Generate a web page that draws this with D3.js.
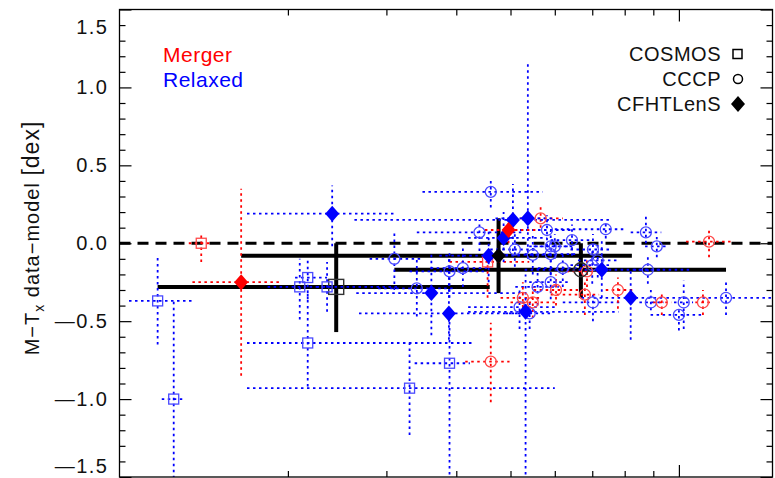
<!DOCTYPE html>
<html><head><meta charset="utf-8">
<script src="https://cdn.jsdelivr.net/npm/d3@7"></script>
<style>
body{margin:0;background:#fff}
svg{display:block}
text{font-family:"Liberation Sans",Arial,sans-serif}
</style>
</head><body>
<svg id="c" width="775" height="478"></svg>
<script>
// ---------------- data ----------------
// y axis ticks (dex)
const yMajorTicks = [-1.5, -1.0, -0.5, 0.0, 0.5, 1.0, 1.5];
const xMinorTicks = [2, 3, 4, 5, 6, 7, 8, 9];
const xMajorTicks = [10];
// rows: [T, T_low, T_high, resid, resid_low, resid_high, state]  (state: M = merger, R = relaxed)
const cosmos = [
  [1.17, 1.04, 1.35, -0.37, -0.65, -0.09, 'R'],
  [1.25, 1.19, 1.30, -1.00, -1.70, -0.37, 'R'],
  [1.40, 1.33, 1.46,  0.00, -0.12,  0.066, 'M'],
  [2.10, 1.84, 2.37, -0.28, -0.49, -0.10, 'R'],
  [2.17, 2.06, 2.35, -0.22, -0.36, -0.09, 'R'],
  [2.35, 2.25, 3.17, -0.28, -0.44, -0.12, 'R'],
  [2.17, 1.69, 4.26, -0.64, -0.92, -0.30, 'R'],
  [3.30, 1.69, 6.00, -0.93, -1.23, -0.62, 'R'],
  [3.89, 3.37, 4.23, -0.77, -1.60, -0.50, 'R'],
  [4.55, 3.89, 5.40, -0.12, -0.35, -0.06, 'M']
];
const cccp = [
  [4.61, 3.48, 5.71,  0.33,  0.23,  0.40, 'R'],
  [4.40, 3.40, 5.30,  0.07, -0.05,  0.15, 'R'],
  [3.10, 2.80, 3.45, -0.10, -0.30,  0.085, 'R'],
  [3.89, 3.30, 4.50, -0.18, -0.35, -0.05, 'R'],
  [4.11, 3.60, 4.60, -0.16, -0.28, -0.02, 'R'],
  [3.40, 2.90, 4.00, -0.29, -0.47, -0.10, 'R'],
  [5.09, 4.60, 5.60, -0.04, -0.15,  0.06, 'R'],
  [5.48, 4.90, 6.10, -0.075, -0.20, 0.05, 'R'],
  [5.90, 5.40, 6.40, -0.02, -0.12,  0.08, 'R'],
  [5.90, 5.30, 6.60, -0.07, -0.20,  0.03, 'R'],
  [6.20, 5.60, 6.80, -0.16, -0.28, -0.05, 'R'],
  [6.44, 5.90, 7.00,  0.02, -0.08,  0.12, 'R'],
  [7.02, 6.40, 7.60, -0.04, -0.14,  0.06, 'R'],
  [7.16, 6.60, 7.80, -0.11, -0.22,  0.00, 'R'],
  [7.00, 6.40, 7.50, -0.14, -0.26, -0.03, 'R'],
  [5.59, 5.10, 6.10, -0.28, -0.40, -0.16, 'R'],
  [5.90, 5.40, 6.40, -0.25, -0.36, -0.14, 'R'],
  [5.19, 4.20, 6.00, -0.41, -0.55, -0.30, 'R'],
  [7.02, 6.20, 7.90, -0.38, -0.50, -0.32, 'R'],
  [5.81, 5.20, 6.40,  0.085, -0.02, 0.18, 'R'],
  [7.40, 6.00, 8.00,  0.09,  0.03,  0.14, 'R'],
  [8.73, 8.20, 9.30,  0.07,  0.00,  0.17, 'R'],
  [9.13, 8.70, 9.60, -0.02, -0.09,  0.04, 'R'],
  [8.80, 8.30, 9.40, -0.17, -0.26, -0.08, 'R'],
  [8.91, 8.50, 9.40, -0.38, -0.43, -0.30, 'R'],
  [10.0, 8.90, 11.1, -0.46, -0.56, -0.43, 'R'],
  [10.2, 9.80, 10.6, -0.38, -0.55, -0.24, 'R'],
  [12.14, 9.50, 14.9, -0.35, -0.46, -0.24, 'R'],
  [6.00, 5.50, 6.50, -0.02, -0.10,  0.06, 'R'],
  [5.41, 4.90, 5.90, -0.45, -0.55, -0.36, 'R'],
  [5.66, 5.20, 6.20,  0.16,  0.10,  0.24, 'M'],
  [4.61, 4.15, 4.98, -0.76, -1.02, -0.51, 'M'],
  [5.26, 4.80, 5.70, -0.35, -0.45, -0.25, 'M'],
  [5.48, 5.00, 6.00, -0.38, -0.48, -0.28, 'M'],
  [6.03, 5.50, 6.60, -0.30, -0.40, -0.20, 'M'],
  [6.79, 5.90, 7.20, -0.33, -0.46, -0.25, 'M'],
  [7.78, 7.40, 8.30, -0.30, -0.42, -0.22, 'M'],
  [9.32, 9.00, 9.70, -0.38, -0.46, -0.31, 'M'],
  [11.04, 10.7, 11.4, -0.38, -0.46, -0.30, 'M'],
  [11.32, 10.3, 12.4,  0.01, -0.09,  0.09, 'M'],
  [6.85, 6.30, 7.40, -0.18, -0.28, -0.10, 'M']
];
const cfhtlens = [
  [1.65, 1.35, 1.95, -0.25, -0.85,  0.35, 'M'],
  [2.40, 1.69, 3.10,  0.19, -0.02,  0.37, 'R'],
  [3.61, 2.65, 5.19, -0.32, -0.59, -0.06, 'R'],
  [3.88, 2.68, 5.34, -0.45, -0.62, -0.10, 'R'],
  [4.57, 3.73, 5.20, -0.08, -0.25,  0.08, 'R'],
  [4.86, 4.20, 5.80,  0.034, -0.12, 0.20, 'R'],
  [5.05, 2.63, 7.50,  0.15, -0.05,  0.38, 'R'],
  [5.37, 4.70, 6.00,  0.16, -0.10,  1.17, 'R'],
  [4.96, 4.50, 5.60,  0.085, 0.00,  0.16, 'M'],
  [5.32, 4.20, 7.80, -0.44, -1.60, -0.20, 'R'],
  [7.28, 5.30, 10.5, -0.17, -0.35,  0.02, 'R'],
  [8.20, 6.70, 9.40, -0.35, -0.62, -0.17, 'R']
];
// sample means: COSMOS, CFHTLenS, CCCP
const meanSample = ['COSMOS', 'CFHTLenS', 'CCCP'];
const meanT    = [2.44, 4.76, 6.68];
const meanTlo  = [1.17, 1.65, 3.10];
const meanThi  = [4.59, 8.24, 12.14];
const meanD    = [-0.28, -0.08, -0.17];
const meanDlo  = [-0.57, -0.32, -0.35];
const meanDhi  = [0.00, 0.16, 0.00];
const stateLabels = ['Merger', 'Relaxed'];
const sampleLabels = ['COSMOS', 'CCCP', 'CFHTLenS'];

// ---------------- drawing ----------------
const svg = d3.select('#c');
const L = 119.5, R = 772.5, T = 9.5, B = 477;
const x = d3.scaleLog().domain([1, 14.7]).range([L, R]);
const y = d3.scaleLinear().domain([-1.5, 1.5]).range([B, T]);
const col = {M: '#ff0000', R: '#0000ff'};
const colLight = {M: '#ff4a4a', R: '#4a4aff'};

svg.append('defs').append('clipPath').attr('id', 'clip')
  .append('rect').attr('x', L).attr('y', T).attr('width', R - L).attr('height', B - T);
const plot = svg.append('g').attr('clip-path', 'url(#clip)');

// zero line
plot.append('line').attr('x1', L).attr('x2', R).attr('y1', y(0)).attr('y2', y(0))
  .attr('stroke', '#000').attr('stroke-width', 3).attr('stroke-dasharray', '11,7');

// summary lines
const meanIdx = d3.range(meanT.length);
const sg = plot.append('g');
meanIdx.forEach(i => {
  sg.append('line').attr('x1', x(meanTlo[i])).attr('x2', x(meanThi[i]))
    .attr('y1', y(meanD[i])).attr('y2', y(meanD[i])).attr('stroke', '#000').attr('stroke-width', 4);
  sg.append('line').attr('x1', x(meanT[i])).attr('x2', x(meanT[i]))
    .attr('y1', y(meanDlo[i])).attr('y2', y(meanDhi[i])).attr('stroke', '#000').attr('stroke-width', 4);
});

// error bars
function errBars(data) {
  const g = plot.append('g');
  data.forEach(d => {
    g.append('line').attr('x1', x(d[1])).attr('x2', x(d[2])).attr('y1', y(d[3])).attr('y2', y(d[3]))
      .attr('stroke', col[d[6]]).attr('stroke-width', 1.8).attr('stroke-dasharray', '2.5,3.5');
    g.append('line').attr('x1', x(d[0])).attr('x2', x(d[0])).attr('y1', y(d[4])).attr('y2', y(d[5]))
      .attr('stroke', col[d[6]]).attr('stroke-width', 1.8).attr('stroke-dasharray', '2.5,3.5');
  });
}
errBars(cosmos); errBars(cccp); errBars(cfhtlens);

const diamond = (cx, cy, w, h) => `M${cx},${cy - h}L${cx + w},${cy}L${cx},${cy + h}L${cx - w},${cy}Z`;

// markers
plot.append('g').selectAll('rect').data(cosmos).join('rect')
  .attr('x', d => x(d[0]) - 5).attr('y', d => y(d[3]) - 5).attr('width', 10).attr('height', 10)
  .attr('fill', 'none').attr('stroke', d => colLight[d[6]]).attr('stroke-width', 1.3);
plot.append('g').selectAll('circle').data(cccp).join('circle')
  .attr('cx', d => x(d[0])).attr('cy', d => y(d[3])).attr('r', 5.5)
  .attr('fill', 'none').attr('stroke', d => colLight[d[6]]).attr('stroke-width', 1.3);
plot.append('g').selectAll('path').data(cfhtlens).join('path')
  .attr('d', d => diamond(x(d[0]), y(d[3]), 7, 8))
  .attr('fill', d => col[d[6]]);

// summary markers
sg.append('rect').attr('x', x(meanT[0]) - 7.5).attr('y', y(meanD[0]) - 7.5).attr('width', 15).attr('height', 15)
  .attr('fill', 'none').attr('stroke', '#333').attr('stroke-width', 1.4);
svg.append('path').attr('d', diamond(x(meanT[1]), y(meanD[1]), 7, 8)).attr('fill', '#000');
svg.append('circle').attr('cx', x(meanT[2])).attr('cy', y(meanD[2])).attr('r', 7)
  .attr('fill', 'none').attr('stroke', '#333').attr('stroke-width', 1.4);

// axes
const yMinor = d3.range(-15, 16).map(v => v / 10).filter(v => Math.abs(v * 2 - Math.round(v * 2)) > 1e-6);
function clean(g) { g.select('.domain').remove(); g.selectAll('line').attr('stroke', '#000').attr('stroke-width', 1.2); }
const fmt = v => (v < 0 ? '\u2014' : '') + d3.format('.1f')(Math.abs(v));
svg.append('g').attr('transform', `translate(${L},0)`)
  .call(d3.axisLeft(y).tickValues(yMajorTicks).tickSize(-12).tickPadding(11).tickFormat(fmt))
  .call(clean)
  .call(g => g.selectAll('text').attr('font-size', 20).attr('fill', '#111').attr('letter-spacing', 1.5)
    .attr('font-family', '"Liberation Sans",Arial,sans-serif')
    .attr('dy', d => d === 1.5 ? '1.2em' : d === -1.5 ? '-0.25em' : '0.32em'));
svg.append('g').attr('transform', `translate(${L},0)`)
  .call(d3.axisLeft(y).tickValues(yMinor).tickSize(-6).tickFormat('')).call(clean);
svg.append('g').attr('transform', `translate(${R},0)`)
  .call(d3.axisRight(y).tickValues(yMajorTicks).tickSize(-12).tickFormat('')).call(clean);
svg.append('g').attr('transform', `translate(${R},0)`)
  .call(d3.axisRight(y).tickValues(yMinor).tickSize(-6).tickFormat('')).call(clean);
[[d3.axisTop, T], [d3.axisBottom, B]].forEach(([ax, pos]) => {
  svg.append('g').attr('transform', `translate(0,${pos})`)
    .call(ax(x).tickValues(xMinorTicks).tickSize(-6).tickFormat('')).call(clean);
  svg.append('g').attr('transform', `translate(0,${pos})`)
    .call(ax(x).tickValues(xMajorTicks).tickSize(-12).tickFormat('')).call(clean);
});
svg.append('rect').attr('x', L).attr('y', T).attr('width', R - L).attr('height', B - T)
  .attr('fill', 'none').attr('stroke', '#000').attr('stroke-width', 1.3);

// y title
const yt = svg.append('text').attr('transform', `translate(39,238) rotate(-90)`)
  .attr('text-anchor', 'middle').attr('font-size', 20).attr('fill', '#111').attr('letter-spacing', 1);
yt.append('tspan').text('M\u2212T');
yt.append('tspan').attr('font-size', 14).attr('dy', 5).text('x');
yt.append('tspan').attr('dy', -5).text(' data\u2212model ');
yt.append('tspan').attr('font-size', 23).text('[dex]');

// state legend
svg.append('text').attr('x', 163).attr('y', 62).attr('font-size', 21).attr('fill', col.M).attr('letter-spacing', 0.5).text(stateLabels[0]);
svg.append('text').attr('x', 163).attr('y', 87).attr('font-size', 21).attr('fill', col.R).attr('letter-spacing', 0.5).text(stateLabels[1]);

// sample legend
const lgY = [54, 79, 104];
sampleLabels.forEach((s, i) => {
  svg.append('text').attr('x', 721).attr('y', lgY[i] + 7).attr('text-anchor', 'end')
    .attr('font-size', 20).attr('fill', '#111').attr('letter-spacing', 0.5).text(s);
});
svg.append('rect').attr('x', 733).attr('y', lgY[0] - 4.5).attr('width', 9).attr('height', 9)
  .attr('fill', 'none').attr('stroke', '#000').attr('stroke-width', 1.5);
svg.append('circle').attr('cx', 738).attr('cy', lgY[1]).attr('r', 4.5)
  .attr('fill', 'none').attr('stroke', '#000').attr('stroke-width', 1.5);
svg.append('path').attr('d', diamond(738, lgY[2], 7, 8)).attr('fill', '#000');
</script>
</body></html>
